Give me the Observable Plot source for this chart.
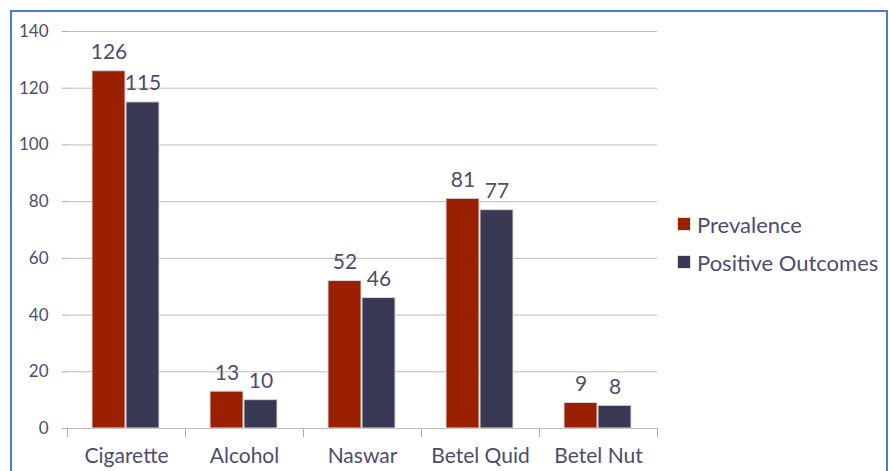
<!DOCTYPE html>
<html>
<head>
<meta charset="utf-8">
<script src="https://cdn.jsdelivr.net/npm/d3@7"></script>
<script src="https://cdn.jsdelivr.net/npm/@observablehq/plot@0.6"></script>
<style>
  html, body { margin: 0; padding: 0; background: #fff; overflow: hidden; }
  #wrap { position: relative; width: 890px; height: 471px; }
  #border { position: absolute; left: 10px; top: 10px; width: 878px; height: 520px; border: 2px solid #4a7bd4; box-sizing: border-box; }
  #chart { position: absolute; left: 0; top: 0; }
  #legend { position: absolute; left: 678px; top: 205px; font-family: Lato, "Open Sans", sans-serif; font-size: 22px; color: #4d4d6e; }
  .item { display: flex; align-items: center; height: 38px; }
  .sw { width: 12px; height: 12px; margin-right: 7px; box-shadow: 0 0 0 1px #ddd; }
</style>
</head>
<body>
<div id="wrap">
  <div id="border"></div>
  <div id="chart"></div>
  <div id="legend"></div>
</div>
<script>
const categories = ["Cigarette", "Alcohol", "Naswar", "Betel Quid", "Betel Nut"];
const prevalence = [126, 13, 52, 81, 9];
const positiveOutcomes = [115, 10, 46, 77, 8];
const seriesNames = ["Prevalence", "Positive Outcomes"];
const seriesColors = ["#9b2000", "#393953"];
const yTicks = [0, 20, 40, 60, 80, 100, 120, 140];

const data = categories.flatMap((c, i) => [
  {category: c, series: seriesNames[0], value: prevalence[i]},
  {category: c, series: seriesNames[1], value: positiveOutcomes[i]}
]);

const W = 890, H = 471, mT = 31, mB = 43, mL = 67, mR = 233;
const innerH = H - mT - mB;
const textColor = "#4d4d6e";

const chart = Plot.plot({
  width: W, height: H,
  marginLeft: mL, marginRight: mR, marginTop: mT, marginBottom: mB,
  style: {fontFamily: "Lato, 'Open Sans', sans-serif", background: "transparent", color: textColor},
  fx: {domain: categories, padding: 0, label: null},
  x: {domain: seriesNames, paddingOuter: 0.72, paddingInner: 0.02, axis: null},
  y: {domain: [0, 140], label: null},
  color: {domain: seriesNames, range: seriesColors},
  marks: [
    Plot.gridY(yTicks, {stroke: "#bdbdbd", strokeOpacity: 1}),
    Plot.axisY(yTicks, {tickSize: 5, tickPadding: 14, fontSize: 17, stroke: "#aaa", fill: textColor, line: true, label: null}),
    Plot.frame({anchor: "left", stroke: "#aaa", insetTop: innerH, insetBottom: -8}),
    Plot.frame({anchor: "right", stroke: "#aaa", insetTop: innerH, insetBottom: -8}),
    Plot.ruleY([0], {stroke: "#bdbdbd"}),
    Plot.axisFx({anchor: "bottom", tickSize: 0, tickPadding: 20, fontSize: 21, fill: textColor, label: null}),
    Plot.barY(data, {fx: "category", x: "series", y: "value", fill: "series", stroke: "#d8d8d8", strokeWidth: 1}),
    Plot.text(data, {fx: "category", x: "series", y: "value", text: d => String(d.value), lineAnchor: "bottom", dy: -12, fontSize: 21, fill: textColor})
  ]
});
document.getElementById("chart").appendChild(chart);

const legend = document.getElementById("legend");
seriesNames.forEach((s, i) => {
  const item = document.createElement("div");
  item.className = "item";
  const sw = document.createElement("span");
  sw.className = "sw";
  sw.style.background = seriesColors[i];
  const t = document.createElement("span");
  t.textContent = s;
  item.appendChild(sw);
  item.appendChild(t);
  legend.appendChild(item);
});
</script>
</body>
</html>
